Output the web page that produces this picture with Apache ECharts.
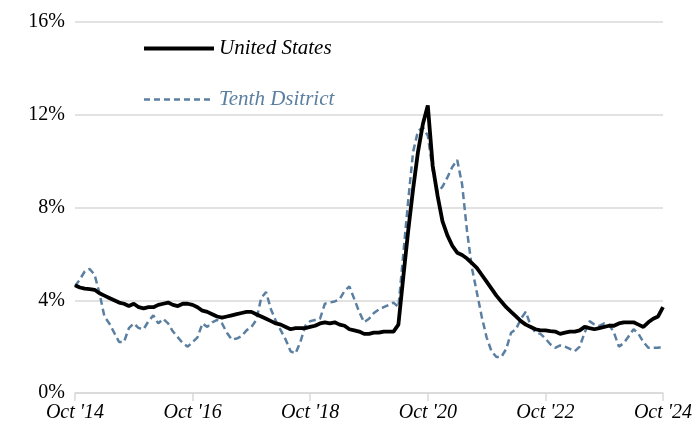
<!DOCTYPE html>
<html>
<head>
<meta charset="utf-8">
<script src="https://cdn.jsdelivr.net/npm/echarts@6/dist/echarts.min.js"></script>
<style>
  html, body { margin: 0; padding: 0; background: #fff; }
  #chart { width: 700px; height: 438px; }
</style>
</head>
<body>
<div id="chart"></div>
<script>
// 月度数据：2014年10月 - 2024年10月
var monthNames = ["Jan", "Feb", "Mar", "Apr", "May", "Jun", "Jul", "Aug", "Sep", "Oct", "Nov", "Dec"];
var startYear = 2014;
var startMonth = 9; // Oct
var monthCount = 121;

var months = [];
for (var i = 0; i < monthCount; i++) {
  var m = (startMonth + i) % 12;
  var y = startYear + Math.floor((startMonth + i) / 12);
  months.push(monthNames[m] + " '" + String(y).slice(2));
}

var yTicks = [0, 4, 8, 12, 16];

var unitedStates = [
  4.65, 4.55, 4.5, 4.48, 4.45, 4.3, 4.2, 4.1, 4.0, 3.9,
  3.85, 3.75, 3.85, 3.7, 3.65, 3.7, 3.7, 3.8, 3.85, 3.9,
  3.8, 3.75, 3.85, 3.85, 3.8, 3.7, 3.55, 3.5, 3.4, 3.3,
  3.25, 3.3, 3.35, 3.4, 3.45, 3.5, 3.5, 3.4, 3.3, 3.2,
  3.1, 3.0, 2.95, 2.85, 2.75, 2.8, 2.8, 2.8, 2.85, 2.9,
  3.0, 3.05, 3.0, 3.05, 2.95, 2.9, 2.75, 2.7, 2.65, 2.55,
  2.55, 2.6, 2.6, 2.65, 2.65, 2.65, 2.95, 5.0, 7.0, 8.8,
  10.4, 11.6, 12.4, 9.8, 8.5, 7.4, 6.8, 6.35, 6.05, 5.95,
  5.8, 5.6, 5.4, 5.1, 4.8, 4.5, 4.2, 3.95, 3.7, 3.5,
  3.3, 3.1, 2.95, 2.85, 2.75, 2.7, 2.7, 2.67, 2.65, 2.55,
  2.6, 2.65, 2.65, 2.7, 2.85, 2.8, 2.75, 2.8, 2.85, 2.9,
  2.9, 3.0, 3.05, 3.05, 3.05, 2.95, 2.85, 3.05, 3.2, 3.3,
  3.7
];

var tenthDistrict = [
  4.6, 4.9, 5.25, 5.35, 5.1, 4.3, 3.3, 3.0, 2.6, 2.2,
  2.2, 2.8, 3.0, 2.8, 2.75, 3.1, 3.35, 3.0, 3.2, 3.0,
  2.65, 2.4, 2.15, 2.0, 2.2, 2.4, 3.0, 2.85, 3.05, 3.15,
  3.0, 2.6, 2.3, 2.35, 2.45, 2.7, 2.85, 3.15, 4.1, 4.35,
  3.6, 3.1, 2.7, 2.3, 1.8, 1.7, 2.2, 2.9, 3.1, 3.15,
  3.2, 3.85, 3.9, 3.95, 4.05, 4.4, 4.6, 4.05, 3.5, 3.05,
  3.2, 3.45, 3.6, 3.7, 3.8, 3.9, 3.7, 6.0, 8.3, 10.4,
  11.3, 11.45, 11.1, 9.6, 8.65, 8.9, 9.3, 9.75, 10.05, 9.0,
  7.0, 5.4, 4.35, 3.3, 2.4, 1.8, 1.55, 1.55, 1.9, 2.6,
  2.75, 3.2, 3.5, 2.9, 2.6, 2.55, 2.35, 2.1, 1.95, 2.05,
  2.0, 1.9, 1.8, 2.0, 2.6, 3.1, 2.95, 2.9, 3.0, 2.95,
  2.6, 2.0, 2.15, 2.45, 2.75, 2.55, 2.2, 1.95, 1.95, 1.95,
  2.0
];

var chart = echarts.init(document.getElementById("chart"));
var serif = "Liberation Serif";
var blue = "#5b7fa1";

chart.setOption({
  animation: false,
  // 图例
  legend: {
    orient: "vertical",
    left: 137,
    top: 33,
    itemWidth: 70,
    itemHeight: 14,
    itemGap: 30,
    itemStyle: { opacity: 0 },
    textStyle: {
      fontFamily: serif,
      fontStyle: "italic",
      fontSize: 21
    },
    data: [
      {
        name: "United States",
        textStyle: { color: "#000" },
        lineStyle: { color: "#000", width: 4 }
      },
      {
        name: "Tenth Dsitrict",
        textStyle: { color: blue },
        lineStyle: { color: blue, width: 2.5, type: [6, 4] }
      }
    ]
  },
  grid: {
    left: 75,
    right: 37,
    top: 22,
    bottom: 45
  },
  xAxis: {
    type: "category",
    boundaryGap: false,
    data: months,
    axisLine: {
      lineStyle: { color: "#d9d9d9", width: 1.5 }
    },
    axisTick: {
      show: true,
      interval: 23,
      length: 8,
      lineStyle: { color: "#d9d9d9", width: 1.5 }
    },
    axisLabel: {
      interval: 23,
      margin: 10,
      color: "#000",
      fontFamily: serif,
      fontStyle: "italic",
      fontSize: 20
    },
    splitLine: { show: false }
  },
  yAxis: {
    type: "value",
    min: yTicks[0],
    max: yTicks[yTicks.length - 1],
    interval: 4,
    axisLine: { show: false },
    axisTick: { show: false },
    axisLabel: {
      margin: 10,
      color: "#000",
      fontFamily: serif,
      fontSize: 20,
      formatter: "{value}%"
    },
    splitLine: {
      lineStyle: { color: "#d9d9d9", width: 1.5 }
    }
  },
  series: [
    {
      name: "Tenth Dsitrict",
      type: "line",
      symbol: "none",
      data: tenthDistrict,
      z: 2,
      lineStyle: {
        color: blue,
        width: 2.5,
        type: [7, 4]
      },
      itemStyle: { color: blue }
    },
    {
      name: "United States",
      type: "line",
      symbol: "none",
      data: unitedStates,
      z: 3,
      lineStyle: {
        color: "#000",
        width: 3.8
      },
      itemStyle: { color: "#000" }
    }
  ]
});
</script>
</body>
</html>
